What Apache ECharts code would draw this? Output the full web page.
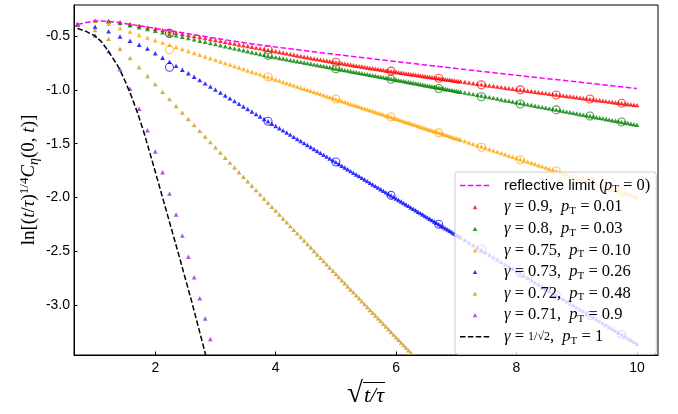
<!DOCTYPE html>
<html><head><meta charset="utf-8">
<script src="https://cdn.jsdelivr.net/npm/echarts@6/dist/echarts.min.js"></script>
<style>html,body{margin:0;padding:0;background:#fff}#c{width:678px;height:414px}</style>
</head><body><div id="c"></div>
<script>
// time grid t/tau (x axis shows sqrt(t/tau))
const tGrid = [0.5,1,1.5,2,2.5,3,3.5,4,4.5,5,5.5,6,6.5,7,7.5,8,8.5,9,9.5,10,
10.5,11,11.5,12,12.5,13,13.5,14,14.5,15,15.5,16,16.5,17,17.5,18,18.5,19,19.5,20,
20.5,21,21.5,22,22.5,23,23.5,24,24.5,25,25.5,26,26.5,27,27.5,28,28.5,29,29.5,30,
30.5,31,31.5,32,32.5,33,33.5,34,34.5,35,35.5,36,36.5,37,37.5,38,38.5,39,39.5,40,
40.5,41,41.5,42,42.5,43,43.5,44,44.5,45,45.5,46,46.5,47,47.5,48,48.5,49,49.5,50,
51,52,53,54,55,56,57,58,59,60,61,62,63,64,65,66,67,68,69,70,
71,72,73,74,75,76,77,78,79,80,81,82,83,84,85,86,87,88,89,90,
91,92,93,94,95,96,97,98,99,100];
const tCircles = [5,15,25,35,45,55,65,75,85,95];

const red = [-0.393,-0.360,-0.362,-0.372,-0.389,-0.405,-0.420,-0.433,-0.446,-0.458,
-0.469,-0.480,-0.491,-0.501,-0.510,-0.520,-0.529,-0.538,-0.546,-0.555,
-0.563,-0.571,-0.579,-0.586,-0.594,-0.601,-0.608,-0.615,-0.622,-0.629,
-0.635,-0.642,-0.649,-0.656,-0.662,-0.669,-0.675,-0.681,-0.687,-0.693,
-0.698,-0.704,-0.709,-0.715,-0.720,-0.725,-0.730,-0.735,-0.740,-0.745,
-0.749,-0.754,-0.758,-0.763,-0.767,-0.772,-0.776,-0.780,-0.784,-0.788,
-0.793,-0.797,-0.800,-0.804,-0.808,-0.812,-0.816,-0.820,-0.823,-0.827,
-0.831,-0.834,-0.838,-0.841,-0.845,-0.848,-0.851,-0.855,-0.858,-0.861,
-0.865,-0.868,-0.871,-0.874,-0.878,-0.881,-0.884,-0.887,-0.890,-0.893,
-0.896,-0.899,-0.902,-0.905,-0.908,-0.911,-0.914,-0.917,-0.920,-0.922,
-0.928,-0.933,-0.939,-0.944,-0.949,-0.955,-0.960,-0.965,-0.970,-0.975,
-0.980,-0.985,-0.990,-0.995,-0.999,-1.004,-1.009,-1.013,-1.018,-1.022,
-1.027,-1.031,-1.036,-1.040,-1.044,-1.049,-1.053,-1.057,-1.061,-1.065,
-1.069,-1.074,-1.078,-1.082,-1.086,-1.090,-1.094,-1.097,-1.101,-1.105,
-1.109,-1.113,-1.117,-1.120,-1.124,-1.128,-1.131,-1.135,-1.139,-1.142];

const green = [-0.393,-0.360,-0.365,-0.380,-0.401,-0.419,-0.436,-0.452,-0.467,-0.482,
-0.495,-0.508,-0.520,-0.532,-0.544,-0.555,-0.566,-0.576,-0.586,-0.596,
-0.606,-0.615,-0.624,-0.633,-0.642,-0.651,-0.659,-0.668,-0.676,-0.684,
-0.691,-0.697,-0.704,-0.710,-0.717,-0.723,-0.729,-0.735,-0.741,-0.747,
-0.752,-0.758,-0.764,-0.769,-0.775,-0.780,-0.786,-0.791,-0.797,-0.802,
-0.807,-0.812,-0.817,-0.822,-0.827,-0.832,-0.837,-0.842,-0.847,-0.852,
-0.856,-0.861,-0.866,-0.870,-0.875,-0.880,-0.884,-0.889,-0.893,-0.898,
-0.902,-0.906,-0.911,-0.915,-0.919,-0.924,-0.928,-0.932,-0.936,-0.940,
-0.944,-0.948,-0.953,-0.957,-0.961,-0.965,-0.969,-0.972,-0.976,-0.980,
-0.984,-0.988,-0.992,-0.996,-1.000,-1.003,-1.007,-1.011,-1.015,-1.018,
-1.026,-1.033,-1.040,-1.047,-1.054,-1.061,-1.068,-1.075,-1.082,-1.089,
-1.096,-1.102,-1.109,-1.115,-1.122,-1.128,-1.135,-1.141,-1.147,-1.154,
-1.160,-1.166,-1.172,-1.178,-1.184,-1.190,-1.196,-1.202,-1.208,-1.214,
-1.220,-1.226,-1.231,-1.237,-1.243,-1.248,-1.254,-1.260,-1.265,-1.271,
-1.276,-1.282,-1.287,-1.292,-1.298,-1.303,-1.308,-1.314,-1.319,-1.324];

const orange = [-0.393,-0.360,-0.388,-0.428,-0.461,-0.491,-0.516,-0.540,-0.562,-0.583,
-0.603,-0.622,-0.640,-0.658,-0.674,-0.691,-0.707,-0.722,-0.737,-0.752,
-0.766,-0.780,-0.793,-0.807,-0.820,-0.832,-0.845,-0.857,-0.869,-0.881,
-0.893,-0.904,-0.915,-0.927,-0.938,-0.948,-0.959,-0.970,-0.980,-0.990,
-1.000,-1.010,-1.020,-1.030,-1.040,-1.049,-1.059,-1.068,-1.077,-1.086,
-1.095,-1.104,-1.113,-1.122,-1.131,-1.139,-1.148,-1.156,-1.165,-1.173,
-1.181,-1.190,-1.198,-1.206,-1.214,-1.222,-1.230,-1.238,-1.245,-1.253,
-1.261,-1.268,-1.276,-1.283,-1.291,-1.298,-1.306,-1.313,-1.320,-1.327,
-1.335,-1.342,-1.349,-1.356,-1.363,-1.370,-1.377,-1.384,-1.390,-1.397,
-1.404,-1.411,-1.418,-1.424,-1.431,-1.437,-1.444,-1.450,-1.457,-1.463,
-1.476,-1.489,-1.501,-1.514,-1.526,-1.538,-1.551,-1.563,-1.574,-1.586,
-1.598,-1.610,-1.621,-1.633,-1.644,-1.655,-1.666,-1.677,-1.688,-1.699,
-1.710,-1.721,-1.732,-1.742,-1.753,-1.763,-1.774,-1.784,-1.794,-1.804,
-1.815,-1.825,-1.835,-1.845,-1.855,-1.864,-1.874,-1.884,-1.894,-1.903,
-1.913,-1.922,-1.932,-1.941,-1.951,-1.960,-1.969,-1.978,-1.988,-1.997];

const blue = [-0.393,-0.415,-0.458,-0.505,-0.545,-0.582,-0.618,-0.661,-0.702,-0.741,
-0.778,-0.813,-0.846,-0.879,-0.910,-0.940,-0.970,-0.998,-1.026,-1.053,
-1.079,-1.105,-1.130,-1.154,-1.178,-1.202,-1.225,-1.248,-1.270,-1.292,
-1.314,-1.335,-1.356,-1.376,-1.396,-1.416,-1.436,-1.456,-1.475,-1.494,
-1.512,-1.531,-1.549,-1.567,-1.585,-1.603,-1.620,-1.637,-1.654,-1.671,
-1.688,-1.705,-1.721,-1.737,-1.754,-1.770,-1.785,-1.801,-1.817,-1.832,
-1.847,-1.863,-1.878,-1.893,-1.907,-1.922,-1.937,-1.951,-1.966,-1.980,
-1.994,-2.008,-2.022,-2.036,-2.050,-2.064,-2.077,-2.091,-2.104,-2.117,
-2.131,-2.144,-2.157,-2.170,-2.183,-2.196,-2.209,-2.221,-2.234,-2.247,
-2.259,-2.272,-2.284,-2.296,-2.308,-2.321,-2.333,-2.345,-2.357,-2.369,
-2.392,-2.416,-2.439,-2.462,-2.485,-2.508,-2.530,-2.552,-2.574,-2.596,
-2.618,-2.639,-2.660,-2.682,-2.703,-2.723,-2.744,-2.764,-2.785,-2.805,
-2.825,-2.845,-2.865,-2.884,-2.904,-2.923,-2.942,-2.962,-2.981,-2.999,
-3.018,-3.037,-3.055,-3.074,-3.092,-3.110,-3.128,-3.146,-3.164,-3.182,
-3.200,-3.217,-3.235,-3.252,-3.270,-3.287,-3.304,-3.321,-3.338,-3.355];

const gold = [-0.393,-0.445,-0.527,-0.619,-0.704,-0.790,-0.872,-0.947,-1.019,-1.086,
-1.150,-1.211,-1.270,-1.326,-1.381,-1.434,-1.485,-1.534,-1.583,-1.630,
-1.675,-1.720,-1.764,-1.807,-1.849,-1.890,-1.930,-1.970,-2.009,-2.047,
-2.084,-2.121,-2.158,-2.194,-2.229,-2.264,-2.298,-2.332,-2.365,-2.398,
-2.431,-2.463,-2.495,-2.527,-2.558,-2.588,-2.619,-2.649,-2.679,-2.708,
-2.738,-2.766,-2.795,-2.824,-2.852,-2.879,-2.907,-2.934,-2.962,-2.988,
-3.015,-3.042,-3.068,-3.094,-3.120,-3.145,-3.171,-3.196,-3.221,-3.246,
-3.271,-3.295,-3.320,-3.344,-3.368,-3.392,-3.416,-3.439,-3.463];

const purple = [-0.393,-0.497,-0.643,-0.810,-0.990,-1.176,-1.375,-1.572,-1.764,-1.963,
-2.157,-2.353,-2.548,-2.739,-2.934,-3.121,-3.313];

const redC = [-0.476,-0.628,-0.744,-0.826,-0.893,-0.954,-1.000,-1.048,-1.085,-1.124];
const greenC = [-0.476,-0.680,-0.805,-0.902,-0.987,-1.064,-1.131,-1.186,-1.243,-1.298];
const orangeC = [-0.628,-0.881,-1.085,-1.252,-1.399,-1.533,-1.649,-1.753,-1.855,-1.951];
const blueC = [-0.790,-1.292,-1.670,-1.979,-2.247,-2.477,-2.700,-2.904,-3.092,-3.270];

// reflective limit curve (x = sqrt(t/tau))
const reflX = [0.707,1.0,1.2247,1.414,1.732,2.0,2.236,2.5,3.0,3.5,4.0,5.0,6.0,7.0,8.0,9.0,10.0];
const reflY = [-0.393,-0.360,-0.365,-0.378,-0.405,-0.430,-0.452,-0.475,-0.522,-0.565,-0.603,-0.672,-0.738,-0.802,-0.865,-0.926,-0.988];
// gamma = 1/sqrt(2), pT = 1 curve
const critX = [0.707,0.85,1.0,1.1,1.2,1.3,1.4,1.5,1.6,1.7,1.8,1.9,2.0,2.2,2.4,2.6,2.8,2.9];
const critY = [-0.430,-0.458,-0.500,-0.550,-0.625,-0.710,-0.800,-0.920,-1.055,-1.205,-1.375,-1.565,-1.760,-2.155,-2.550,-2.955,-3.380,-3.600];

const xTicks = [2,4,6,8,10];
const yTicks = [-3.0,-2.5,-2.0,-1.5,-1.0,-0.5];

const labels = {
  refl: '{s|reflective limit (}{mi|p}{sub|T}{m| = 0)}',
  g09: '{mi|γ}{m| = 0.9,  }{mi|p}{sub|T}{m| = 0.01}',
  g08: '{mi|γ}{m| = 0.8,  }{mi|p}{sub|T}{m| = 0.03}',
  g075: '{mi|γ}{m| = 0.75,  }{mi|p}{sub|T}{m| = 0.10}',
  g073: '{mi|γ}{m| = 0.73,  }{mi|p}{sub|T}{m| = 0.26}',
  g072: '{mi|γ}{m| = 0.72,  }{mi|p}{sub|T}{m| = 0.48}',
  g071: '{mi|γ}{m| = 0.71,  }{mi|p}{sub|T}{m| = 0.9}',
  crit: '{mi|γ}{m| = }{fr|1/√2}{m|,  }{mi|p}{sub|T}{m| = 1}'
};

const BOX = 'path://M0,0M30,14';
const TRI_ICON = BOX + 'M12.7,9.2L15,5L17.3,9.2Z';
const DASH_ICON = BOX + 'M0,6.25h5.5v1.5h-5.5zM7.9,6.25h5.5v1.5h-5.5zM15.8,6.25h5.5v1.5h-5.5zM23.7,6.25h5.5v1.5h-5.5z';
const xy = (ts, ys) => ys.map((y, i) => [Math.sqrt(ts[i]), y]);
const xyDirect = (xs, ys) => ys.map((y, i) => [xs[i], y]);

function tri(name, color, ys) {
  return { type: 'scatter', name, data: xy(tGrid, ys), symbol: 'triangle',
    symbolSize: [4.8, 4.4], itemStyle: { color }, z: 3, silent: true, clip: true };
}
function circ(name, color, ys) {
  return { type: 'scatter', name, data: xy(tCircles, ys), symbol: 'circle', symbolSize: 8,
    itemStyle: { color: 'rgba(0,0,0,0)', borderColor: color, borderWidth: 1.1, opacity: 0.7 },
    z: 4, silent: true };
}

// overline image for the radical in the x-axis title
const ovCanvas = document.createElement('canvas');
ovCanvas.width = 8; ovCanvas.height = 48;
(function () { const g = ovCanvas.getContext('2d'); g.fillStyle = '#000'; g.fillRect(0, 0, 8, 2); })();

const serif = 'Liberation Serif';
const sans = 'Liberation Sans';
const rich = {
  s: { fontFamily: sans, fontSize: 15, color: '#000', lineHeight: 18 },
  m: { fontFamily: serif, fontSize: 16.5, color: '#000', lineHeight: 18 },
  mi: { fontFamily: serif, fontStyle: 'italic', fontSize: 16.5, color: '#000', lineHeight: 18 },
  sub: { fontFamily: serif, fontSize: 11, color: '#000', padding: [8, 0, 0, 0], lineHeight: 18 },
  fr: { fontFamily: serif, fontSize: 12, color: '#000', lineHeight: 18 }
};

const chart = echarts.init(document.getElementById('c'), null, { renderer: 'canvas' });
chart.setOption({
  animation: false,
  backgroundColor: '#fff',
  grid: { left: 74, right: 20, top: 5, bottom: 53, show: true, borderColor: '#000', borderWidth: 1, backgroundColor: 'transparent' },
  xAxis: {
    type: 'value', min: 0.65, max: 10.35,
    axisLine: { onZero: false, lineStyle: { color: '#000', width: 1 } },
    axisTick: { inside: true, length: 3.5, customValues: xTicks, lineStyle: { color: '#000' } },
    axisLabel: { customValues: xTicks, color: '#000', fontSize: 14, fontFamily: sans, margin: 6 },
    splitLine: { show: false },
    name: '{r|√}{o|t/τ}', nameLocation: 'middle', nameGap: 25, nameMoveOverlap: false,
    nameTextStyle: { rich: {
      r: { fontFamily: serif, fontSize: 29, color: '#000' },
      o: { fontFamily: serif, fontStyle: 'italic', fontSize: 22, color: '#000',
           backgroundColor: { image: ovCanvas }, padding: [3, 1, 0, 1] } } }
  },
  yAxis: {
    type: 'value', min: -3.46, max: -0.213,
    axisLine: { onZero: false, lineStyle: { color: '#000', width: 1 } },
    axisTick: { inside: true, length: 3.5, customValues: yTicks, lineStyle: { color: '#000' } },
    axisLabel: { customValues: yTicks, color: '#000', fontSize: 14, fontFamily: sans, margin: 4,
      formatter: v => v.toFixed(1) },
    splitLine: { show: false },
    name: '{r|ln[(}{i|t}{r|/}{i|τ}{r|)}{sup|1/4}{i|C}{sub|η}{r|(0, }{i|t}{r|)]}',
    nameLocation: 'middle', nameRotate: 90, nameGap: 33, nameMoveOverlap: false,
    nameTextStyle: { rich: {
      r: { fontFamily: serif, fontSize: 19, color: '#000', lineHeight: 24 },
      i: { fontFamily: serif, fontStyle: 'italic', fontSize: 19, color: '#000', lineHeight: 24 },
      sup: { fontFamily: serif, fontSize: 13, color: '#000', padding: [0, 0, 9, 0], lineHeight: 24 },
      sub: { fontFamily: serif, fontStyle: 'italic', fontSize: 14, color: '#000', padding: [10, 0, 0, 0], lineHeight: 24 } } }
  },
  legend: {
    orient: 'vertical', left: 455, top: 172,
    padding: [4, 6, 8, 5], itemWidth: 30, itemHeight: 14, itemGap: 2.6,
    backgroundColor: 'rgba(255,255,255,0.8)', borderColor: '#cccccc', borderWidth: 1, borderRadius: 3,
    z: 10,
    data: [
      { name: 'refl', icon: DASH_ICON },
      { name: 'g09', icon: TRI_ICON },
      { name: 'g08', icon: TRI_ICON },
      { name: 'g075', icon: TRI_ICON },
      { name: 'g073', icon: TRI_ICON },
      { name: 'g072', icon: TRI_ICON },
      { name: 'g071', icon: TRI_ICON },
      { name: 'crit', icon: DASH_ICON }
    ],
    formatter: n => labels[n],
    textStyle: { padding: [0, 0, 0, 9], rich }
  },
  series: [
    tri('g09', '#ff0000', red),
    tri('g08', '#008000', green),
    tri('g075', '#ffa500', orange),
    tri('g073', '#0000ff', blue),
    tri('g072', '#c99a22', gold),
    tri('g071', '#9932cc', purple),
    circ('c09', '#ff0000', redC),
    circ('c08', '#008000', greenC),
    circ('c075', '#ffa500', orangeC),
    circ('c073', '#0000ff', blueC),
    { type: 'line', name: 'refl', data: xyDirect(reflX, reflY), symbol: 'none', z: 5, silent: true,
      lineStyle: { color: '#ff00ff', width: 1.5, type: [5.5, 2.4] }, itemStyle: { color: '#ff00ff' } },
    { type: 'line', name: 'crit', data: xyDirect(critX, critY), symbol: 'none', z: 5, silent: true,
      lineStyle: { color: '#000000', width: 1.5, type: [5.5, 2.4] }, itemStyle: { color: '#000000' } }
  ]
});
</script></body></html>
